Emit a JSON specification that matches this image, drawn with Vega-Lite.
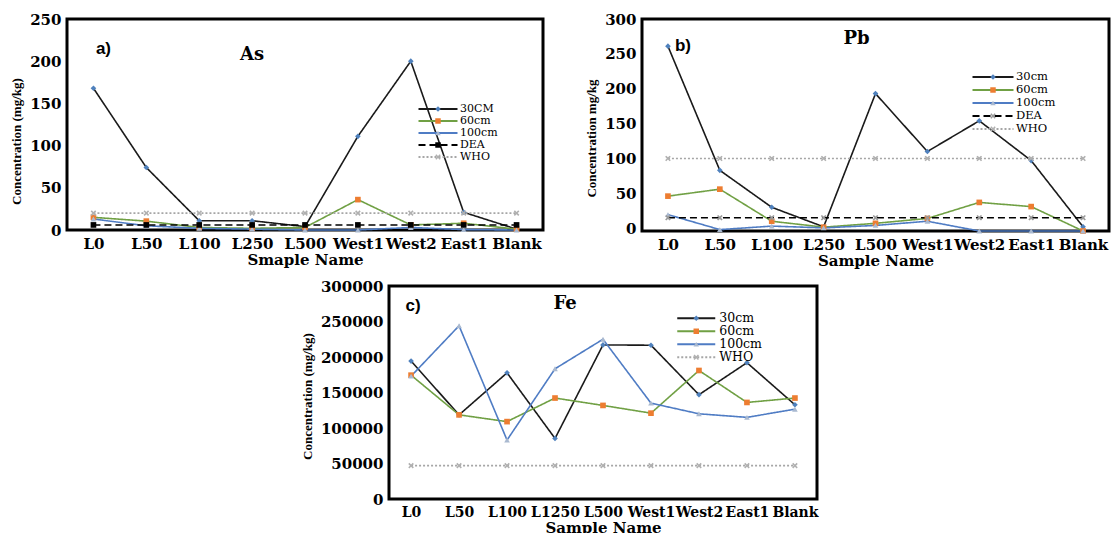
{
  "$schema": "https://vega.github.io/schema/vega-lite/v6.json",
  "background": "white",
  "padding": {"left": 9, "top": 10, "right": 0, "bottom": 0},
  "config": {
    "view": {"stroke": "black", "strokeWidth": 3},
    "axis": {"grid": false, "ticks": false, "domain": false, "labelOverlap": false, "labelFont": "DejaVu Serif", "labelFontWeight": "bold", "labelFontSize": 15, "labelColor": "black", "titleColor": "black"},
    "axisX": {"labelAngle": 0, "labelPadding": 6, "titlePadding": 1, "titleFont": "DejaVu Serif", "titleFontSize": 15, "titleFontWeight": "bold"},
    "axisY": {"labelPadding": 6, "titlePadding": 6, "titleFont": "Liberation Serif", "titleFontSize": 13, "titleFontWeight": "bold", "tickCount": 12},
    "legend": {"padding": 0, "rowPadding": 0, "labelFont": "DejaVu Serif", "labelColor": "black"}
  },
  "datasets": {
    "as": [
      {"sample": "L0", "series": "30CM", "value": 168}, {"sample": "L50", "series": "30CM", "value": 74}, {"sample": "L100", "series": "30CM", "value": 11}, {"sample": "L250", "series": "30CM", "value": 11}, {"sample": "L500", "series": "30CM", "value": 4}, {"sample": "West1", "series": "30CM", "value": 111}, {"sample": "West2", "series": "30CM", "value": 200}, {"sample": "East1", "series": "30CM", "value": 21}, {"sample": "Blank", "series": "30CM", "value": 1},
      {"sample": "L0", "series": "60cm", "value": 15}, {"sample": "L50", "series": "60cm", "value": 10.5}, {"sample": "L100", "series": "60cm", "value": 3}, {"sample": "L250", "series": "60cm", "value": 2}, {"sample": "L500", "series": "60cm", "value": 3}, {"sample": "West1", "series": "60cm", "value": 36}, {"sample": "West2", "series": "60cm", "value": 6}, {"sample": "East1", "series": "60cm", "value": 8}, {"sample": "Blank", "series": "60cm", "value": 1},
      {"sample": "L0", "series": "100cm", "value": 13}, {"sample": "L50", "series": "100cm", "value": 5}, {"sample": "L100", "series": "100cm", "value": 2}, {"sample": "L250", "series": "100cm", "value": 1}, {"sample": "L500", "series": "100cm", "value": 0}, {"sample": "West1", "series": "100cm", "value": 0}, {"sample": "West2", "series": "100cm", "value": 3}, {"sample": "East1", "series": "100cm", "value": 0.5}, {"sample": "Blank", "series": "100cm", "value": 0},
      {"sample": "L0", "series": "DEA", "value": 6}, {"sample": "L50", "series": "DEA", "value": 6}, {"sample": "L100", "series": "DEA", "value": 6}, {"sample": "L250", "series": "DEA", "value": 6}, {"sample": "L500", "series": "DEA", "value": 6}, {"sample": "West1", "series": "DEA", "value": 6}, {"sample": "West2", "series": "DEA", "value": 6}, {"sample": "East1", "series": "DEA", "value": 6}, {"sample": "Blank", "series": "DEA", "value": 6},
      {"sample": "L0", "series": "WHO", "value": 20}, {"sample": "L50", "series": "WHO", "value": 20}, {"sample": "L100", "series": "WHO", "value": 20}, {"sample": "L250", "series": "WHO", "value": 20}, {"sample": "L500", "series": "WHO", "value": 20}, {"sample": "West1", "series": "WHO", "value": 20}, {"sample": "West2", "series": "WHO", "value": 20}, {"sample": "East1", "series": "WHO", "value": 20}, {"sample": "Blank", "series": "WHO", "value": 20}
    ],
    "pb": [
      {"sample": "L0", "series": "30cm", "value": 261}, {"sample": "L50", "series": "30cm", "value": 83}, {"sample": "L100", "series": "30cm", "value": 30}, {"sample": "L250", "series": "30cm", "value": 2}, {"sample": "L500", "series": "30cm", "value": 193}, {"sample": "West1", "series": "30cm", "value": 110}, {"sample": "West2", "series": "30cm", "value": 154}, {"sample": "East1", "series": "30cm", "value": 97}, {"sample": "Blank", "series": "30cm", "value": 2},
      {"sample": "L0", "series": "60cm", "value": 46}, {"sample": "L50", "series": "60cm", "value": 56}, {"sample": "L100", "series": "60cm", "value": 10}, {"sample": "L250", "series": "60cm", "value": 1.5}, {"sample": "L500", "series": "60cm", "value": 7}, {"sample": "West1", "series": "60cm", "value": 14}, {"sample": "West2", "series": "60cm", "value": 37}, {"sample": "East1", "series": "60cm", "value": 31}, {"sample": "Blank", "series": "60cm", "value": -4},
      {"sample": "L0", "series": "100cm", "value": 19.5}, {"sample": "L50", "series": "100cm", "value": -2}, {"sample": "L100", "series": "100cm", "value": 3}, {"sample": "L250", "series": "100cm", "value": 0.5}, {"sample": "L500", "series": "100cm", "value": 4}, {"sample": "West1", "series": "100cm", "value": 10}, {"sample": "West2", "series": "100cm", "value": -4}, {"sample": "East1", "series": "100cm", "value": -4}, {"sample": "Blank", "series": "100cm", "value": -4},
      {"sample": "L0", "series": "DEA", "value": 15}, {"sample": "L50", "series": "DEA", "value": 15}, {"sample": "L100", "series": "DEA", "value": 15}, {"sample": "L250", "series": "DEA", "value": 15}, {"sample": "L500", "series": "DEA", "value": 15}, {"sample": "West1", "series": "DEA", "value": 15}, {"sample": "West2", "series": "DEA", "value": 15}, {"sample": "East1", "series": "DEA", "value": 15}, {"sample": "Blank", "series": "DEA", "value": 15},
      {"sample": "L0", "series": "WHO", "value": 100}, {"sample": "L50", "series": "WHO", "value": 100}, {"sample": "L100", "series": "WHO", "value": 100}, {"sample": "L250", "series": "WHO", "value": 100}, {"sample": "L500", "series": "WHO", "value": 100}, {"sample": "West1", "series": "WHO", "value": 100}, {"sample": "West2", "series": "WHO", "value": 100}, {"sample": "East1", "series": "WHO", "value": 100}, {"sample": "Blank", "series": "WHO", "value": 100}
    ],
    "fe": [
      {"sample": "L0", "series": "30cm", "value": 194300}, {"sample": "L50", "series": "30cm", "value": 118500}, {"sample": "L100", "series": "30cm", "value": 177700}, {"sample": "L1250", "series": "30cm", "value": 85300}, {"sample": "L500", "series": "30cm", "value": 217000}, {"sample": "West1", "series": "30cm", "value": 216600}, {"sample": "West2", "series": "30cm", "value": 146900}, {"sample": "East1", "series": "30cm", "value": 192000}, {"sample": "Blank", "series": "30cm", "value": 132700},
      {"sample": "L0", "series": "60cm", "value": 174400}, {"sample": "L50", "series": "60cm", "value": 118500}, {"sample": "L100", "series": "60cm", "value": 109000}, {"sample": "L1250", "series": "60cm", "value": 142200}, {"sample": "L500", "series": "60cm", "value": 131800}, {"sample": "West1", "series": "60cm", "value": 120900}, {"sample": "West2", "series": "60cm", "value": 181000}, {"sample": "East1", "series": "60cm", "value": 136000}, {"sample": "Blank", "series": "60cm", "value": 142200},
      {"sample": "L0", "series": "100cm", "value": 173000}, {"sample": "L50", "series": "100cm", "value": 244000}, {"sample": "L100", "series": "100cm", "value": 83000}, {"sample": "L1250", "series": "100cm", "value": 183400}, {"sample": "L500", "series": "100cm", "value": 225000}, {"sample": "West1", "series": "100cm", "value": 135000}, {"sample": "West2", "series": "100cm", "value": 120000}, {"sample": "East1", "series": "100cm", "value": 115000}, {"sample": "Blank", "series": "100cm", "value": 126500},
      {"sample": "L0", "series": "WHO", "value": 47000}, {"sample": "L50", "series": "WHO", "value": 47000}, {"sample": "L100", "series": "WHO", "value": 47000}, {"sample": "L1250", "series": "WHO", "value": 47000}, {"sample": "L500", "series": "WHO", "value": 47000}, {"sample": "West1", "series": "WHO", "value": 47000}, {"sample": "West2", "series": "WHO", "value": 47000}, {"sample": "East1", "series": "WHO", "value": 47000}, {"sample": "Blank", "series": "WHO", "value": 47000}
    ]
  },
  "spacing": 7,
  "resolve": {"scale": {"stroke": "independent", "strokeDash": "independent", "fill": "independent", "shape": "independent"}, "legend": {"stroke": "independent", "strokeDash": "independent", "fill": "independent", "shape": "independent"}},
  "vconcat": [
    {
      "spacing": 39,
      "resolve": {"scale": {"stroke": "independent", "strokeDash": "independent", "fill": "independent", "shape": "independent"}, "legend": {"stroke": "independent", "strokeDash": "independent", "fill": "independent", "shape": "independent"}},
      "hconcat": [
        {
          "width": 476, "height": 211,
          "data": {"name": "as"},
          "layer": [
            {
              "mark": {"type": "line", "strokeWidth": 1.6},
              "encoding": {
                "x": {"field": "sample", "type": "nominal", "sort": ["L0","L50","L100","L250","L500","West1","West2","East1","Blank"], "scale": {"type": "point", "domain": ["L0","L50","L100","L250","L500","West1","West2","East1","Blank"], "padding": 0.5}, "axis": {"title": "Smaple Name", "labelOverlap": false}},
                "y": {"field": "value", "type": "quantitative", "scale": {"domain": [0, 250], "nice": false}, "axis": {"title": "Concentration (mg/kg)", "titleY": 122, "values": [0, 50, 100, 150, 200, 250], "tickCount": 12, "labelOverlap": false}},
                "stroke": {"field": "series", "type": "nominal", "scale": {"domain": ["30CM","60cm","100cm","DEA","WHO"], "range": ["#1a1a1a","#70a044","#4f7cc4","#000000","#a6a6a6"]},
                  "legend": {"title": null, "orient": "none", "legendX": 365.5, "legendY": 84.5, "symbolType": "M-4.875,0H4.875", "symbolSize": 64, "symbolStrokeWidth": 2, "labelOffset": 16.5, "labelFontSize": 11, "rowPadding": 0, "padding": 0}},
                "strokeDash": {"field": "series", "type": "nominal", "scale": {"domain": ["30CM","60cm","100cm","DEA","WHO"], "range": [[1,0],[1,0],[1,0],[7,4],[2,2]]},
                  "legend": {"title": null, "orient": "none", "legendX": 365.5, "legendY": 84.5, "symbolType": "M-4.875,0H4.875", "symbolSize": 64, "symbolStrokeWidth": 2, "labelOffset": 16.5, "labelFontSize": 11, "rowPadding": 0, "padding": 0}}
              }
            },
            {
              "mark": {"type": "point", "filled": true, "opacity": 1, "size": 32, "strokeWidth": 0},
              "encoding": {
                "x": {"field": "sample", "type": "nominal"},
                "y": {"field": "value", "type": "quantitative"},
                "fill": {"field": "series", "type": "nominal", "sort": null, "scale": {"range": ["#4f81bd","#ed7d31","#a9b9d0","#000000","#b0b0b0"]},
                  "legend": {"title": null, "orient": "none", "legendX": 365.5, "legendY": 84.5, "symbolSize": 30, "symbolStrokeWidth": 0, "labelFontSize": 11, "labelExpr": "''", "rowPadding": 0, "padding": 0}},
                "shape": {"field": "series", "type": "nominal", "sort": null, "scale": {"range": ["diamond","square","triangle-up","square","M-1,-0.6L-0.6,-1L0,-0.4L0.6,-1L1,-0.6L0.4,0L1,0.6L0.6,1L0,0.4L-0.6,1L-1,0.6L-0.4,0Z"]},
                  "legend": {"title": null, "orient": "none", "legendX": 365.5, "legendY": 84.5, "symbolSize": 30, "symbolStrokeWidth": 0, "labelFontSize": 11, "labelExpr": "''", "rowPadding": 0, "padding": 0}}
              }
            },
            {
              "data": {"values": [{}]},
              "mark": {"type": "text", "font": "Liberation Sans", "fontWeight": "bold", "fontSize": 17, "dx": 10, "color": "black"},
              "encoding": {"x": {"datum": "L0"}, "y": {"datum": 214}, "text": {"value": "a)"}}
            },
            {
              "data": {"values": [{}]},
              "mark": {"type": "text", "font": "DejaVu Serif", "fontWeight": "bold", "fontSize": 18, "color": "black"},
              "encoding": {"x": {"datum": "L250"}, "y": {"datum": 207}, "text": {"value": "As"}}
            }
          ]
        },
        {
          "width": 467, "height": 212,
          "data": {"name": "pb"},
          "layer": [
            {
              "mark": {"type": "line", "strokeWidth": 1.6},
              "encoding": {
                "x": {"field": "sample", "type": "nominal", "sort": ["L0","L50","L100","L250","L500","West1","West2","East1","Blank"], "scale": {"type": "point", "domain": ["L0","L50","L100","L250","L500","West1","West2","East1","Blank"], "padding": 0.5}, "axis": {"title": "Sample Name", "labelOverlap": false}},
                "y": {"field": "value", "type": "quantitative", "scale": {"domain": [-4, 300], "nice": false}, "axis": {"title": "Concentration mg/kg", "titleY": 119, "values": [0, 50, 100, 150, 200, 250, 300], "tickCount": 12, "labelOverlap": false}},
                "stroke": {"field": "series", "type": "nominal", "scale": {"domain": ["30cm","60cm","100cm","DEA","WHO"], "range": ["#1a1a1a","#70a044","#4f7cc4","#000000","#a6a6a6"]},
                  "legend": {"title": null, "orient": "none", "legendX": 345.25, "legendY": 52.25, "symbolType": "M-5.125,0H5.125", "symbolSize": 64, "symbolStrokeWidth": 2, "labelOffset": 17.25, "labelFontSize": 11.5, "rowPadding": 0, "padding": 0}},
                "strokeDash": {"field": "series", "type": "nominal", "scale": {"domain": ["30cm","60cm","100cm","DEA","WHO"], "range": [[1,0],[1,0],[1,0],[7,4],[2,2]]},
                  "legend": {"title": null, "orient": "none", "legendX": 345.25, "legendY": 52.25, "symbolType": "M-5.125,0H5.125", "symbolSize": 64, "symbolStrokeWidth": 2, "labelOffset": 17.25, "labelFontSize": 11.5, "rowPadding": 0, "padding": 0}}
              }
            },
            {
              "mark": {"type": "point", "filled": true, "opacity": 1, "size": 32, "strokeWidth": 0},
              "encoding": {
                "x": {"field": "sample", "type": "nominal"},
                "y": {"field": "value", "type": "quantitative"},
                "fill": {"field": "series", "type": "nominal", "sort": null, "scale": {"range": ["#4f81bd","#ed7d31","#a9b9d0","#9a9a9a","#b0b0b0"]},
                  "legend": {"title": null, "orient": "none", "legendX": 345.25, "legendY": 52.25, "symbolSize": 30, "symbolStrokeWidth": 0, "labelFontSize": 11.5, "labelExpr": "''", "rowPadding": 0, "padding": 0}},
                "shape": {"field": "series", "type": "nominal", "sort": null, "scale": {"range": ["diamond","square","triangle-up","M-1,-0.6L-0.6,-1L0,-0.4L0.6,-1L1,-0.6L0.4,0L1,0.6L0.6,1L0,0.4L-0.6,1L-1,0.6L-0.4,0Z","M-1,-0.6L-0.6,-1L0,-0.4L0.6,-1L1,-0.6L0.4,0L1,0.6L0.6,1L0,0.4L-0.6,1L-1,0.6L-0.4,0Z"]},
                  "legend": {"title": null, "orient": "none", "legendX": 345.25, "legendY": 52.25, "symbolSize": 30, "symbolStrokeWidth": 0, "labelFontSize": 11.5, "labelExpr": "''", "rowPadding": 0, "padding": 0}}
              }
            },
            {
              "data": {"values": [{}]},
              "mark": {"type": "text", "font": "Liberation Sans", "fontWeight": "bold", "fontSize": 17, "dx": 15, "color": "black"},
              "encoding": {"x": {"datum": "L0"}, "y": {"datum": 261}, "text": {"value": "b)"}}
            },
            {
              "data": {"values": [{}]},
              "mark": {"type": "text", "font": "DejaVu Serif", "fontWeight": "bold", "fontSize": 18, "dx": 33, "color": "black"},
              "encoding": {"x": {"datum": "L250"}, "y": {"datum": 271}, "text": {"value": "Pb"}}
            }
          ]
        }
      ]
    },
    {
      "spacing": 0,
      "resolve": {"scale": {"stroke": "independent", "strokeDash": "independent", "fill": "independent", "shape": "independent"}, "legend": {"stroke": "independent", "strokeDash": "independent", "fill": "independent", "shape": "independent"}},
      "hconcat": [
        {
          "width": 232, "height": 10,
          "data": {"values": []},
          "mark": "point",
          "view": {"stroke": null}
        },
        {
          "width": 428, "height": 213,
          "data": {"name": "fe"},
          "layer": [
            {
              "mark": {"type": "line", "strokeWidth": 1.6},
              "encoding": {
                "x": {"field": "sample", "type": "nominal", "sort": ["L0","L50","L100","L1250","L500","West1","West2","East1","Blank"], "scale": {"type": "point", "domain": ["L0","L50","L100","L1250","L500","West1","West2","East1","Blank"], "padding": 0.46}, "axis": {"title": "Sample Name", "labelOverlap": false, "labelFontSize": 14}},
                "y": {"field": "value", "type": "quantitative", "scale": {"domain": [0, 300000], "nice": false}, "axis": {"title": "Concentration (mg/kg)", "titleY": 110, "values": [0, 50000, 100000, 150000, 200000, 250000, 300000], "tickCount": 12, "format": "d", "labelOverlap": false}},
                "stroke": {"field": "series", "type": "nominal", "scale": {"domain": ["30cm","60cm","100cm","WHO"], "range": ["#1a1a1a","#70a044","#4f7cc4","#a6a6a6"]},
                  "legend": {"title": null, "orient": "none", "legendX": 301, "legendY": 26, "symbolType": "M-4.75,0H4.75", "symbolSize": 64, "symbolStrokeWidth": 2, "labelOffset": 16.75, "labelFontSize": 12.5, "rowPadding": 0, "padding": 0}},
                "strokeDash": {"field": "series", "type": "nominal", "scale": {"domain": ["30cm","60cm","100cm","WHO"], "range": [[1,0],[1,0],[1,0],[2,2]]},
                  "legend": {"title": null, "orient": "none", "legendX": 301, "legendY": 26, "symbolType": "M-4.75,0H4.75", "symbolSize": 64, "symbolStrokeWidth": 2, "labelOffset": 16.75, "labelFontSize": 12.5, "rowPadding": 0, "padding": 0}}
              }
            },
            {
              "mark": {"type": "point", "filled": true, "opacity": 1, "size": 32, "strokeWidth": 0},
              "encoding": {
                "x": {"field": "sample", "type": "nominal"},
                "y": {"field": "value", "type": "quantitative"},
                "fill": {"field": "series", "type": "nominal", "sort": null, "scale": {"range": ["#4f81bd","#ed7d31","#a9b9d0","#b0b0b0"]},
                  "legend": {"title": null, "orient": "none", "legendX": 301, "legendY": 26, "symbolSize": 30, "symbolStrokeWidth": 0, "labelFontSize": 12.5, "labelExpr": "''", "rowPadding": 0, "padding": 0}},
                "shape": {"field": "series", "type": "nominal", "sort": null, "scale": {"range": ["diamond","square","triangle-up","M-1,-0.6L-0.6,-1L0,-0.4L0.6,-1L1,-0.6L0.4,0L1,0.6L0.6,1L0,0.4L-0.6,1L-1,0.6L-0.4,0Z"]},
                  "legend": {"title": null, "orient": "none", "legendX": 301, "legendY": 26, "symbolSize": 30, "symbolStrokeWidth": 0, "labelFontSize": 12.5, "labelExpr": "''", "rowPadding": 0, "padding": 0}}
              }
            },
            {
              "data": {"values": [{}]},
              "mark": {"type": "text", "font": "Liberation Sans", "fontWeight": "bold", "fontSize": 17, "dx": 2, "color": "black"},
              "encoding": {"x": {"datum": "L0"}, "y": {"datum": 271600}, "text": {"value": "c)"}}
            },
            {
              "data": {"values": [{}]},
              "mark": {"type": "text", "font": "DejaVu Serif", "fontWeight": "bold", "fontSize": 18, "dx": 10, "color": "black"},
              "encoding": {"x": {"datum": "L1250"}, "y": {"datum": 274000}, "text": {"value": "Fe"}}
            }
          ]
        }
      ]
    }
  ]
}
